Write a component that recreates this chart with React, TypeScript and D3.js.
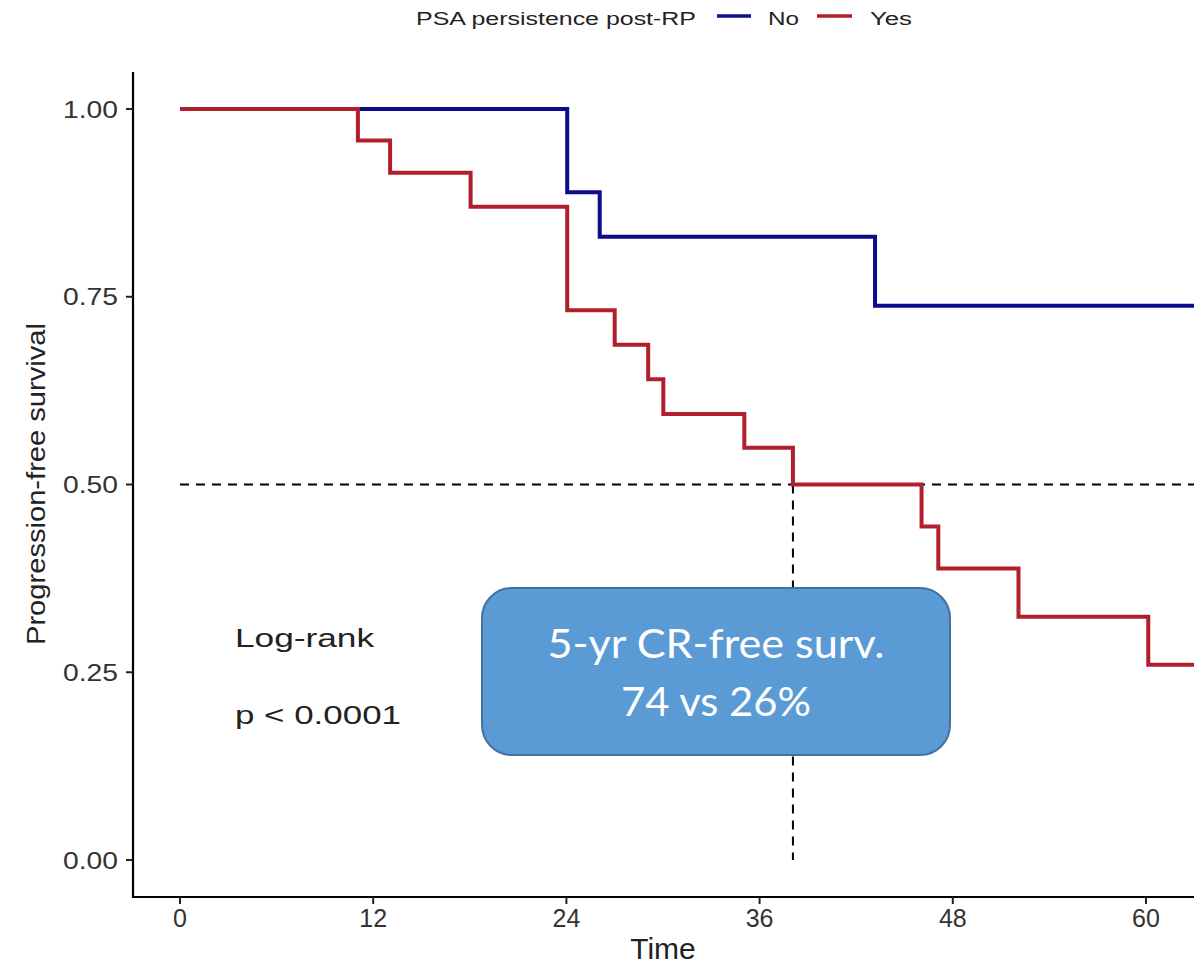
import React from "react";
import * as d3 from "d3";

const yesTimes = [0, 11.05, 13.05, 18.05, 24.05, 27.0, 29.08, 30.02, 35.05, 38.07, 46.06, 47.1, 52.08, 60.14, 64];
const yesSurv = [1, 0.958, 0.915, 0.87, 0.732, 0.686, 0.64, 0.594, 0.549, 0.5, 0.444, 0.388, 0.324, 0.26, 0.26];
const noTimes = [0, 24.05, 26.07, 43.17, 64];
const noSurv = [1, 0.889, 0.83, 0.738, 0.738];
const xTicks = [0, 12, 24, 36, 48, 60];
const yTicks = [0, 0.25, 0.5, 0.75, 1.0];
const medianTime = 38.07;
const groups = ["No", "Yes"];
const colors = ["#0c0c8c", "#b21f2c"];

export default function App() {
  const W = 1194, H = 966;
  const x = d3.scaleLinear().domain([0, 60]).range([180, 1146]);
  const y = d3.scaleLinear().domain([0, 1]).range([860, 109]);
  const axisLeft = 133, axisBottom = 897, axisTop = 72;
  const line = d3
    .line<[number, number]>()
    .x((d) => x(d[0]))
    .y((d) => y(d[1]))
    .curve(d3.curveStepAfter);
  const noData = noTimes.map((t, i) => [t, noSurv[i]] as [number, number]);
  const yesData = yesTimes.map((t, i) => [t, yesSurv[i]] as [number, number]);
  const font = "'Liberation Sans', Arial, sans-serif";

  return (
    <svg
      width={W}
      height={H}
      style={{ position: "absolute", left: 0, top: 0, background: "#fff" }}
      fontFamily={font}
    >
      <defs>
        <clipPath id="plotclip">
          <rect x={axisLeft} y={0} width={W - axisLeft} height={axisBottom} />
        </clipPath>
      </defs>
      {/* Legend */}
      <text x={416} y={25} fontSize={18} textLength={280} lengthAdjust="spacingAndGlyphs" fill="#222">
        PSA persistence post-RP
      </text>
      <line x1={717} x2={751} y1={16} y2={16} stroke={colors[0]} strokeWidth={3.5} />
      <text x={768} y={25} fontSize={18} textLength={31} lengthAdjust="spacingAndGlyphs" fill="#222">
        {groups[0]}
      </text>
      <line x1={817} x2={852} y1={16} y2={16} stroke={colors[1]} strokeWidth={3.5} />
      <text x={870} y={25} fontSize={18} textLength={42} lengthAdjust="spacingAndGlyphs" fill="#222">
        {groups[1]}
      </text>

      {/* Curves */}
      <g clipPath="url(#plotclip)">
        <line
          x1={x(0)}
          x2={W}
          y1={y(0.5)}
          y2={y(0.5)}
          stroke="#000"
          strokeWidth={2}
          strokeDasharray="9 7"
        />
        <line
          x1={x(medianTime)}
          x2={x(medianTime)}
          y1={y(0.5)}
          y2={y(0)}
          stroke="#000"
          strokeWidth={2}
          strokeDasharray="9 7"
        />
        <path d={line(noData) || ""} fill="none" stroke={colors[0]} strokeWidth={4} />
        <path d={line(yesData) || ""} fill="none" stroke={colors[1]} strokeWidth={4} />
      </g>

      {/* Axes */}
      <line x1={axisLeft} x2={axisLeft} y1={axisTop} y2={axisBottom + 1} stroke="#000" strokeWidth={2.2} />
      <line x1={axisLeft - 1} x2={W} y1={axisBottom} y2={axisBottom} stroke="#000" strokeWidth={2.2} />
      {yTicks.map((t) => (
        <g key={"y" + t}>
          <line x1={axisLeft - 7} x2={axisLeft} y1={y(t)} y2={y(t)} stroke="#222" strokeWidth={2} />
          <text
            x={118}
            y={y(t) + 8.5}
            textAnchor="end"
            fontSize={24}
            textLength={55}
            lengthAdjust="spacingAndGlyphs"
            fill="#333"
          >
            {t.toFixed(2)}
          </text>
        </g>
      ))}
      {xTicks.map((t) => (
        <g key={"x" + t}>
          <line x1={x(t)} x2={x(t)} y1={axisBottom} y2={axisBottom + 7} stroke="#222" strokeWidth={2} />
          <text x={x(t)} y={927} textAnchor="middle" fontSize={25} fill="#333">
            {t}
          </text>
        </g>
      ))}
      <text x={663} y={959} textAnchor="middle" fontSize={30} fill="#222">
        Time
      </text>
      <text
        transform={`translate(45, 484) rotate(-90)`}
        textAnchor="middle"
        fontSize={26}
        textLength={322}
        lengthAdjust="spacingAndGlyphs"
        fill="#222"
      >
        Progression-free survival
      </text>

      {/* Annotations */}
      <text x={235} y={647} fontSize={25} textLength={139} lengthAdjust="spacingAndGlyphs" fill="#222">
        Log-rank
      </text>
      <text x={235} y={724} fontSize={25} textLength={166} lengthAdjust="spacingAndGlyphs" fill="#222">
        p &lt; 0.0001
      </text>

      <rect x={482} y={588} width={468} height={167} rx={30} ry={30} fill="#5b9bd5" stroke="#41719c" strokeWidth={2} />
      <text
        x={716}
        y={658}
        textAnchor="middle"
        fontSize={41}
        fontFamily="Lato, 'Open Sans', sans-serif"
        textLength={337}
        lengthAdjust="spacingAndGlyphs"
        fill="#fff"
      >
        5-yr CR-free surv.
      </text>
      <text
        x={716}
        y={716}
        textAnchor="middle"
        fontSize={41}
        fontFamily="Lato, 'Open Sans', sans-serif"
        textLength={190}
        lengthAdjust="spacingAndGlyphs"
        fill="#fff"
      >
        74 vs 26%
      </text>
    </svg>
  );
}
